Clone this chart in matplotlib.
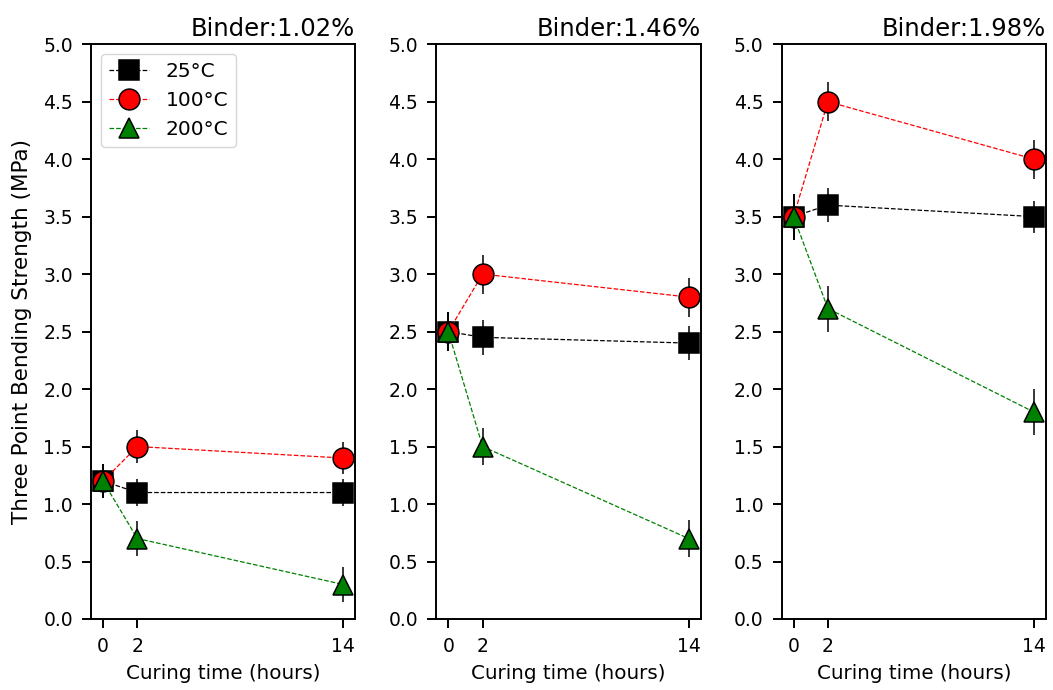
import matplotlib
matplotlib.use("Agg")
import matplotlib.pyplot as plt

times = [0, 2, 14]
binders = ["Binder:1.02%", "Binder:1.46%", "Binder:1.98%"]
temps = ["25°C", "100°C", "200°C"]

# strength values per binder, per temperature
vals_25 = [[1.2, 1.1, 1.1], [2.5, 2.45, 2.4], [3.5, 3.6, 3.5]]
vals_100 = [[1.2, 1.5, 1.4], [2.5, 3.0, 2.8], [3.5, 4.5, 4.0]]
vals_200 = [[1.2, 0.7, 0.3], [2.5, 1.5, 0.7], [3.5, 2.7, 1.8]]

err_25 = [[0.15, 0.12, 0.12], [0.17, 0.15, 0.15], [0.2, 0.15, 0.14]]
err_100 = [[0.15, 0.14, 0.14], [0.17, 0.17, 0.17], [0.2, 0.17, 0.17]]
err_200 = [[0.15, 0.15, 0.15], [0.17, 0.16, 0.16], [0.2, 0.2, 0.2]]

plt.rcParams['font.size'] = 13.5
plt.rcParams['axes.linewidth'] = 1.4

fig, axes = plt.subplots(1, 3, figsize=(10.53, 6.9), dpi=100)
fig.subplots_adjust(left=0.0864, right=0.9933, top=0.936, bottom=0.1029, wspace=0.306)

styles = [
    (vals_25, err_25, 's', 'black', temps[0]),
    (vals_100, err_100, 'o', 'red', temps[1]),
    (vals_200, err_200, '^', 'green', temps[2]),
]

for i, ax in enumerate(axes):
    for vals, errs, mk, col, lab in styles:
        ax.errorbar(times, vals[i], yerr=errs[i], fmt=mk, linestyle='--',
                    color=col, ecolor='black', elinewidth=1.1, capsize=0,
                    markersize=15, markeredgecolor='black', markerfacecolor=col,
                    markeredgewidth=1.1, linewidth=0.9, label=lab)
    ax.set_ylim(0, 5)
    ax.set_yticks([0.5 * k for k in range(11)])
    ax.set_xticks(times)
    ax.tick_params(labelsize=13.5, length=6.5, width=1.4, pad=6.5)
    ax.set_xlabel("Curing time (hours)", fontsize=14.3, labelpad=6)
    ax.set_title(binders[i], loc='right', fontsize=17.5)

axes[0].set_ylabel("Three Point Bending Strength (MPa)", fontsize=15.5, labelpad=8)
axes[0].legend(loc='upper left', fontsize=14.5)

fig.savefig("out.png", dpi=100)
